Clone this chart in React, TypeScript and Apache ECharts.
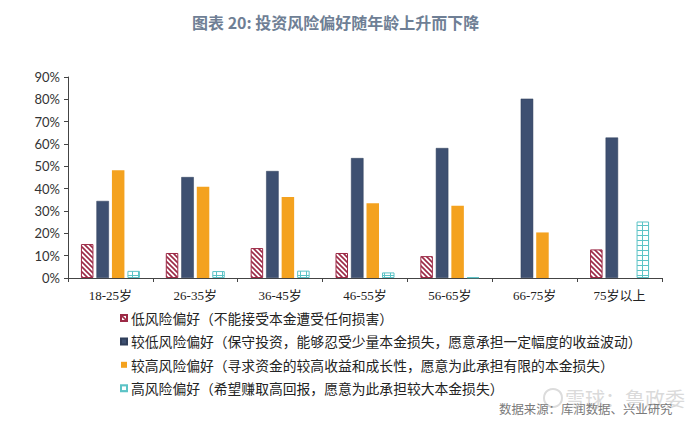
import React, { useEffect, useRef } from "react";
import * as echarts from "echarts";

const categories = ["18-25岁", "26-35岁", "36-45岁", "46-55岁", "56-65岁", "66-75岁", "75岁以上"];
const seriesNames = [
  "低风险偏好（不能接受本金遭受任何损害）",
  "较低风险偏好（保守投资，能够忍受少量本金损失，愿意承担一定幅度的收益波动）",
  "较高风险偏好（寻求资金的较高收益和成长性，愿意为此承担有限的本金损失）",
  "高风险偏好（希望赚取高回报，愿意为此承担较大本金损失）",
];
const lowRisk: (number | string)[] = [15.2, 11.2, 13.4, 11.2, 9.8, "-", 12.8];
const lowerRisk: (number | string)[] = [34.5, 45.2, 47.9, 53.7, 58.2, 80.3, 62.9];
const higherRisk: (number | string)[] = [48.2, 40.9, 36.3, 33.5, 32.3, 20.4, "-"];
const highRisk: (number | string)[] = [3.2, 3.1, 3.3, 2.5, 0.3, "-", 25.3];
const yTicks = { min: 0, max: 90, interval: 10 };
const titleText = "图表 20: 投资风险偏好随年龄上升而下降";
const sourceText = "数据来源：库润数据、兴业研究";
const watermarkText = "雪球：鲁政委";

function stripeCanvas(color: string) {
  const c = document.createElement("canvas");
  const s = 5;
  c.width = s;
  c.height = s;
  const ctx = c.getContext("2d")!;
  ctx.fillStyle = "#ffffff";
  ctx.fillRect(0, 0, s, s);
  ctx.strokeStyle = color;
  ctx.lineWidth = 1.6;
  ctx.beginPath();
  ctx.moveTo(-1, -1);
  ctx.lineTo(s + 1, s + 1);
  ctx.moveTo(-1, s - 1);
  ctx.lineTo(1, s + 1);
  ctx.moveTo(s - 1, -1);
  ctx.lineTo(s + 1, 1);
  ctx.stroke();
  return c;
}

function gridCanvas(color: string) {
  const c = document.createElement("canvas");
  c.width = 6;
  c.height = 5;
  const ctx = c.getContext("2d")!;
  ctx.fillStyle = "#ffffff";
  ctx.fillRect(0, 0, 6, 5);
  ctx.fillStyle = color;
  ctx.fillRect(0, 0, 1, 5);
  ctx.fillRect(0, 0, 6, 1);
  return c;
}

export default function App() {
  const ref = useRef<HTMLDivElement>(null);
  useEffect(() => {
    document.body.style.margin = "0";
    const chart = echarts.init(ref.current!, null, { renderer: "svg" });
    const red = "#9c2a46";
    const teal = "#5cc3c6";
    const serif = "'Liberation Serif', 'Noto Sans CJK SC', serif";
    const cjk = "'Noto Sans CJK SC', sans-serif";
    const barCommon = { type: "bar" as const, barWidth: 12.5, barGap: "24%" };
    chart.setOption({
      animation: false,
      backgroundColor: "#ffffff",
      title: {
        text: titleText,
        left: 187,
        top: 9,
        textStyle: { fontSize: 16, fontWeight: "bold", color: "#6f7f95", fontFamily: cjk },
      },
      grid: { left: 68, right: 38, top: 77, bottom: 151 },
      legend: {
        orient: "vertical",
        left: 115,
        top: 306,
        itemWidth: 6,
        itemHeight: 6,
        itemGap: 9.4,
        icon: "rect",
        selectedMode: false,
        textStyle: { fontSize: 13.8, lineHeight: 14, color: "#222", fontFamily: cjk, padding: [0, 0, 0, -1] },
        data: seriesNames,
      },
      xAxis: {
        type: "category",
        data: categories,
        axisLine: { lineStyle: { color: "#444", width: 1 } },
        axisTick: { show: true, length: 4, lineStyle: { color: "#444" } },
        axisLabel: { fontSize: 13, color: "#222", fontFamily: serif, margin: 11 },
      },
      yAxis: {
        type: "value",
        min: yTicks.min,
        max: yTicks.max,
        interval: yTicks.interval,
        splitLine: { show: false },
        axisLine: { show: true, lineStyle: { color: "#444", width: 1 } },
        axisTick: { show: true, length: 4, lineStyle: { color: "#444" } },
        axisLabel: { formatter: "{value}%", fontSize: 13, color: "#333", fontFamily: "Lato, 'Liberation Sans', sans-serif", margin: 8 },
      },
      series: [
        {
          ...barCommon,
          name: seriesNames[0],
          data: lowRisk,
          itemStyle: {
            color: { image: stripeCanvas(red), repeat: "repeat" },
            borderColor: red,
            borderWidth: 1,
          },
        },
        {
          ...barCommon,
          name: seriesNames[1],
          data: lowerRisk,
          itemStyle: { color: "#3e5071", borderColor: "#2f3e5a", borderWidth: 0.5 },
        },
        {
          ...barCommon,
          name: seriesNames[2],
          data: higherRisk,
          itemStyle: { color: "#f4a21f" },
        },
        {
          ...barCommon,
          name: seriesNames[3],
          data: highRisk,
          itemStyle: {
            color: { image: gridCanvas(teal), repeat: "repeat" },
            borderColor: teal,
            borderWidth: 1,
          },
        },
      ],
      graphic: [
        {
          type: "circle",
          shape: { cx: 553, cy: 398, r: 9 },
          style: { fill: "none", stroke: "#dcdcdc", lineWidth: 2 },
          silent: true,
        },
        {
          type: "text",
          x: 565,
          y: 398,
          style: {
            text: watermarkText,
            fontSize: 20,
            fill: "#dadada",
            fontFamily: cjk,
            textVerticalAlign: "middle",
          },
          silent: true,
        },
        {
          type: "text",
          x: 499,
          y: 409,
          style: {
            text: sourceText,
            fontSize: 12.4,
            fill: "#7a7a7a",
            fontFamily: cjk,
            textVerticalAlign: "middle",
          },
          silent: true,
        },
      ],
    });
    return () => chart.dispose();
  }, []);
  return <div ref={ref} style={{ width: 700, height: 429 }} />;
}
